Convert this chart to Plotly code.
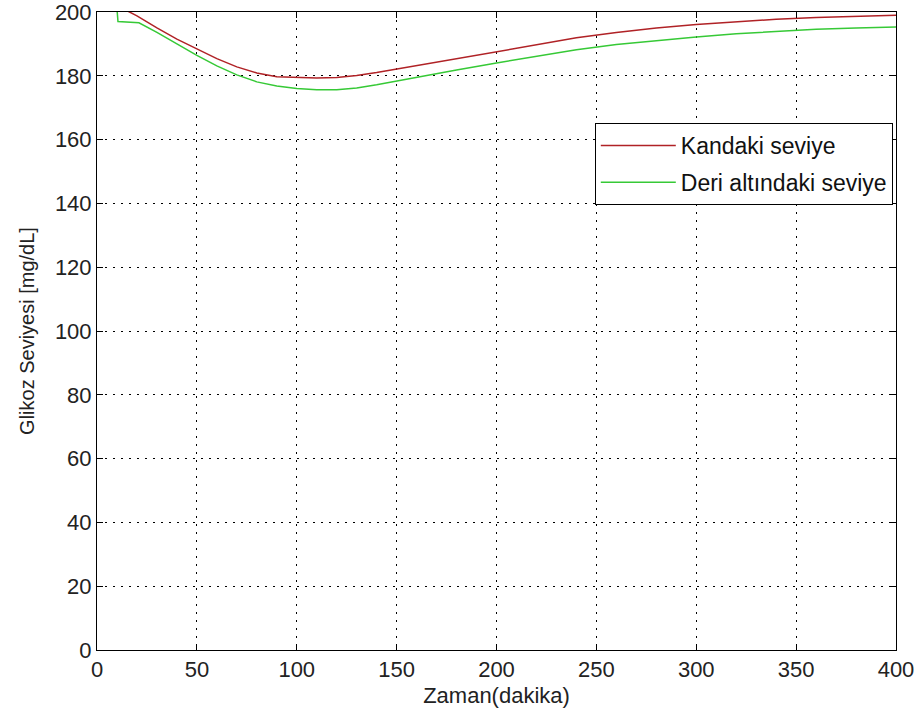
import plotly.graph_objects as go

# Glucose level in blood (Kandaki) and subcutaneous tissue (Deri altındaki), mg/dL
time_blood = [0, 10, 20, 30, 40, 50, 60, 70, 80, 90, 100, 110, 120, 130, 140,
              150, 160, 180, 200, 220, 240, 260, 280, 300, 320, 340, 360, 380, 400]
glucose_blood = [205.5, 202.0, 198.8, 195.0, 191.5, 188.4, 185.4, 182.8, 180.9, 179.7,
                 179.4, 179.3, 179.5, 180.1, 181.0, 182.1, 183.1, 185.4, 187.6, 189.9,
                 191.9, 193.6, 195.0, 196.1, 197.0, 197.7, 198.3, 198.7, 199.0]

time_tissue = [10, 10.5, 21, 30, 40, 50, 60, 70, 80, 90, 100, 110, 120, 130, 140,
               150, 160, 180, 200, 220, 240, 260, 280, 300, 320, 340, 360, 380, 400]
glucose_tissue = [201.0, 197.0, 196.6, 193.6, 190.0, 186.4, 183.1, 180.3, 178.1, 176.8,
                  176.0, 175.6, 175.6, 176.2, 177.2, 178.4, 179.5, 181.8, 184.0, 186.2,
                  188.2, 189.8, 191.1, 192.2, 193.2, 194.0, 194.6, 195.0, 195.3]

x_ticks = [0, 50, 100, 150, 200, 250, 300, 350, 400]
y_ticks = [0, 20, 40, 60, 80, 100, 120, 140, 160, 180, 200]

FONT = "Liberation Sans, Arial, sans-serif"

fig = go.Figure()
fig.add_trace(go.Scatter(x=time_blood, y=glucose_blood, mode="lines",
                         name="Kandaki seviye", legendgroup="blood",
                         line=dict(color="#b02226", width=1.5)))
fig.add_trace(go.Scatter(x=time_tissue, y=glucose_tissue, mode="lines",
                         name="Deri altındaki seviye", legendgroup="tissue",
                         line=dict(color="#36c936", width=1.5)))

axis_common = dict(
    showline=True, linecolor="black", linewidth=1, mirror="ticks",
    ticks="inside", ticklen=6, tickcolor="black", tickwidth=1,
    showgrid=True, gridcolor="black", gridwidth=1, griddash="2px,6px",
    zeroline=False, automargin=False, ticklabeloverflow="allow",
    tickfont=dict(family=FONT, size=22, color="#222"),
)

fig.update_xaxes(range=[0, 400], tickvals=x_ticks,
                 title=dict(text="Zaman(dakika)", font=dict(family=FONT, size=22, color="#222"),
                            standoff=6),
                 **axis_common)
fig.update_yaxes(range=[0, 200], tickvals=y_ticks,
                 title=dict(text="Glikoz Seviyesi [mg/dL]", font=dict(family=FONT, size=20, color="#222"),
                            standoff=14),
                 **axis_common)

fig.update_layout(
    width=923, height=713,
    margin=dict(l=97, r=27, t=12, b=63),
    paper_bgcolor="white", plot_bgcolor="white",
    showlegend=True,
    legend=dict(x=0.996, y=0.826, xanchor="right", yanchor="top",
                bgcolor="white", bordercolor="black", borderwidth=1,
                font=dict(family=FONT, size=23, color="#111"),
                itemwidth=75, tracegroupgap=4),
)

fig.write_html("out.html")
